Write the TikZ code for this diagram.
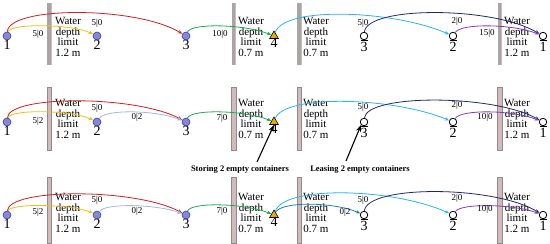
\documentclass[tikz,border=0pt]{standalone}
\usepackage{fontspec}
\setmainfont{Liberation Serif}
\usetikzlibrary{shapes.geometric,arrows.meta,calc}
\definecolor{cyel}{RGB}{240,190,20}
\definecolor{cred}{RGB}{210,30,30}
\definecolor{cgrn}{RGB}{30,170,80}
\definecolor{ccyn}{RGB}{40,180,240}
\definecolor{cnvy}{RGB}{30,40,110}
\definecolor{cprp}{RGB}{130,60,190}
\definecolor{cstl}{RGB}{160,185,215}
\definecolor{ctea}{RGB}{30,130,170}
\definecolor{cfill}{RGB}{135,135,215}
\definecolor{cbord}{RGB}{60,60,160}
\definecolor{ctri}{RGB}{240,170,0}
\definecolor{cwall}{RGB}{170,165,165}
\definecolor{cwalld}{RGB}{145,140,140}
\definecolor{cpink}{RGB}{210,185,188}
\begin{document}
\begin{tikzpicture}[x=1pt,y=-1pt,
  pnode/.style={circle,inner sep=0pt,minimum size=8pt,fill=cfill,draw=cbord,line width=0.6pt},
  tnode/.style={regular polygon,regular polygon sides=3,inner sep=0pt,minimum size=10pt,fill=ctri,draw=black,line width=0.6pt},
  onode/.style={circle,inner sep=0pt,minimum size=7.5pt,fill=white,draw=black,line width=0.8pt},
  lab/.style={inner sep=0.5pt,font=\fontsize{14}{14}\selectfont,label distance=-1pt},
  elab/.style={inner sep=0pt,font=\fontsize{9}{9}\selectfont},
  wtext/.style={inner sep=0pt,align=center,font=\fontsize{11}{10.5}\selectfont},
  ann/.style={inner sep=0pt,font=\fontsize{8.5}{9}\selectfont\bfseries},
  arc/.style={line width=0.8pt,-{Stealth[length=4.5pt,width=3.5pt]}},
  annarrow/.style={line width=1.1pt,-{Stealth[length=7pt,width=5pt]}},
  wallB/.style={fill=cpink,draw=cwalld,line width=0.8pt}]
\useasboundingbox (0,0) rectangle (550,244);
% walls
\foreach \wx in {49.5,234,299.5,500}{
  \fill[cwall] (\wx-2.4,3) rectangle (\wx+1.2,65);
  \fill[cpink] (\wx+1.2,3) rectangle (\wx+2.4,65);
  \draw[wallB] (\wx-2.2,87) rectangle (\wx+2.2,150);
  \draw[wallB] (\wx-2.2,177) rectangle (\wx+2.2,243);
}
% water depth texts
\foreach \r/\ty in {A/37,B/119,C/213}{
  \node[wtext] (w1\r) at (68,\ty) {Water\\depth\\limit\\1.2 m};
  \node[wtext] (w2\r) at (251,\ty) {Water\\depth\\limit\\0.7 m};
  \node[wtext] (w3\r) at (316,\ty) {Water\\depth\\limit\\0.7 m};
  \node[wtext] (w4\r) at (517,\ty) {Water\\depth\\limit\\1.2 m};
}
% nodes
\foreach \r/\y in {A/36,B/122,C/215}{
  \node[pnode,label={[lab]below:1}] (p1\r) at (7,\y) {};
  \node[pnode,label={[lab]below:2}] (p2\r) at (97,\y) {};
  \node[pnode,label={[lab]below:3}] (p3\r) at (186,\y) {};
  \node[tnode,label={[lab]below:4}] (t4\r) at (274,\y) {};
  \node[onode,label={[lab]below:{$\overline{\hbox{3}}$}}] (q3\r) at (364,\y) {};
  \node[onode,label={[lab]below:{$\overline{\hbox{2}}$}}] (q2\r) at (453,\y) {};
  \node[onode,label={[lab]below:{$\overline{\hbox{1}}$}}] (q1\r) at (543,\y) {};
}
% row A arcs
\draw[arc,cyel] (p1A) .. controls +(3,-13) and +(-25,-12) .. (p2A);
\draw[arc,cred] (p1A) .. controls +(2,-30) and +(-50,-30) .. (p3A);
\draw[arc,cgrn] (p3A) .. controls +(5,-13) and +(-30,-12) .. (t4A);
\draw[arc,ccyn] (t4A) .. controls +(10,-30) and +(-60,-26) .. (q2A);
\draw[arc,cnvy] (q3A) .. controls +(3,-30) and +(-50,-30) .. (q1A);
\draw[arc,cprp] (q2A) .. controls +(8,-13) and +(-30,-12) .. (q1A);
% row B arcs
\draw[arc,cyel] (p1B) .. controls +(3,-13) and +(-25,-12) .. (p2B);
\draw[arc,cred] (p1B) .. controls +(2,-27) and +(-50,-27) .. (p3B);
\draw[arc,cstl] (p2B) .. controls +(8,-13) and +(-30,-12) .. (p3B);
\draw[arc,cgrn] (p3B) .. controls +(5,-13) and +(-30,-12) .. (t4B);
\draw[arc,ccyn] (t4B) .. controls +(10,-28) and +(-60,-25) .. (q2B);
\draw[arc,cnvy] (q3B) .. controls +(3,-28) and +(-50,-28) .. (q1B);
\draw[arc,cprp] (q2B) .. controls +(8,-13) and +(-30,-12) .. (q1B);
% row C arcs
\draw[arc,cyel] (p1C) .. controls +(3,-12) and +(-25,-11) .. (p2C);
\draw[arc,cred] (p1C) .. controls +(2,-27) and +(-50,-27) .. (p3C);
\draw[arc,cstl] (p2C) .. controls +(8,-12) and +(-30,-11) .. (p3C);
\draw[arc,cgrn] (p3C) .. controls +(5,-13) and +(-30,-12) .. (t4C);
\draw[arc,ccyn] (t4C) .. controls +(10,-30) and +(-60,-27) .. (q2C);
\draw[arc,ctea] (t4C) .. controls +(8,-14) and +(-30,-13) .. (q3C);
\draw[arc,cnvy] (q3C) .. controls +(3,-30) and +(-50,-30) .. (q1C);
\draw[arc,cprp] (q2C) .. controls +(8,-12) and +(-30,-11) .. (q1C);
% edge labels
\node[elab] (lA1) at (38,34) {5|0};
\node[elab] (lA2) at (97,23) {5|0};
\node[elab] (lA3) at (220,34) {10|0};
\node[elab] (lA4) at (363,23) {5|0};
\node[elab] (lA5) at (457,21) {2|0};
\node[elab] (lA6) at (487,33) {15|0};
\node[elab] (lB1) at (38,121) {5|2};
\node[elab] (lB2) at (97,108) {5|0};
\node[elab] (lB3) at (137,117) {0|2};
\node[elab] (lB4) at (222,118) {7|0};
\node[elab] (lB5) at (363,107) {5|0};
\node[elab] (lB6) at (457,105) {2|0};
\node[elab] (lB7) at (485,117) {10|0};
\node[elab] (lC1) at (38,212) {5|2};
\node[elab] (lC2) at (97,200) {5|0};
\node[elab] (lC3) at (137,211) {0|2};
\node[elab] (lC4) at (222,211) {7|0};
\node[elab] (lC5) at (345,212) {0|2};
\node[elab] (lC6) at (363,200) {5|0};
\node[elab] (lC7) at (457,198) {2|0};
\node[elab] (lC8) at (485,209) {10|0};
% annotations
\node[ann] (store) at (240,169) {Storing 2 empty containers};
\node[ann] (lease) at (360,169) {Leasing 2 empty containers};
\coordinate (s0) at (257,162);
\coordinate (l0) at (346,161);
\draw[annarrow] (s0) -- (t4B.south);
\draw[annarrow] (l0) -- (q3B.south west);
\end{tikzpicture}
\end{document}
